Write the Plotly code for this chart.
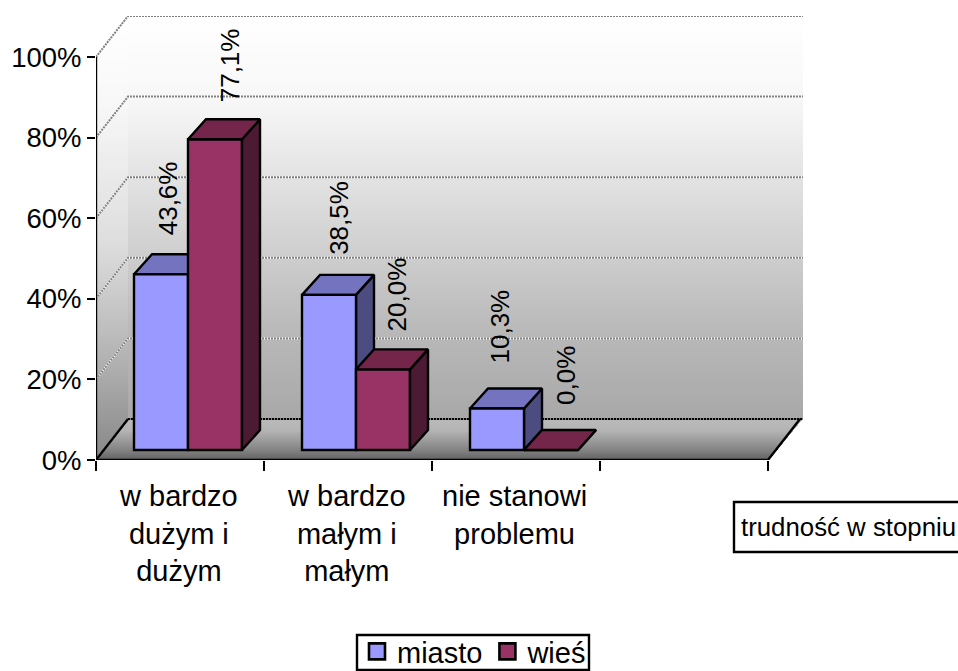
import numpy as np
import plotly.graph_objects as go

# ---- data
categories = ["w bardzo<br>dużym i<br>dużym", "w bardzo<br>małym i<br>małym", "nie stanowi<br>problemu"]
miasto = [43.6, 38.5, 10.3]
wies = [77.1, 20.0, 0.0]
miasto_labels = ["43,6%", "38,5%", "10,3%"]
wies_labels = ["77,1%", "20,0%", "0,0%"]
y_ticks = [0, 20, 40, 60, 80, 100]
y_tick_text = ["0%", "20%", "40%", "60%", "80%", "100%"]
x_ticks = [0, 1, 2, 3, 4]
axis_title = "trudność w stopniu"

# ---- layout geometry
W, H = 958, 671
L, R_PX, T, B_PX = 96, 803, 16, 460
PX_X = 168.0           # pixels per category
PX_Y = 4.03            # pixels per percent
x_max = (R_PX - L) / PX_X
y_max = (B_PX - T) / PX_Y
wall_dx = 32 / PX_X    # depth of the floor
wall_dy = 41 / PX_Y
bar_w = 54 / PX_X
bar_dx = 18 / PX_X
bar_dy = 20 / PX_Y
bar_base = 10 / PX_Y
m_left = 38 / PX_X     # miasto left edge within a category
w_left = m_left + bar_w
LW = 2.4
FONT = "Liberation Sans"
# label nudges in pixels (right of the bar centre, above the back of the top face)
m_nudge = [(7, 56), (10, 57), (3, 62)]
w_nudge = [(15, 54), (14, 55), (15, 54)]


def paper_x(px):
    return (px - L) / (R_PX - L)


def paper_y(py):
    return (B_PX - py) / (B_PX - T)


def gradient():
    px = np.arange(L, R_PX)
    py = np.arange(T, B_PX)
    back = np.interp(py, [16, 100, 240, 330, 419], [255, 247, 210, 185, 168])
    side = np.interp(py, [16, 100, 240, 330, 460], [255, 248, 222, 190, 135])
    floor = np.interp(py, [419, 430, 450, 460], [186, 180, 130, 96])
    z = np.full((len(py), len(px)), np.nan, dtype="float32")
    for j, yy in enumerate(py):
        z[j, :] = back[j] if yy < 419 else floor[j]
        edge = L + (B_PX - yy) * 32 / 41 if yy >= 419 else 128
        z[j, px < edge] = side[j]
        z[j, px < L + (58 - yy) * 32 / 42] = np.nan
        if yy >= 419:
            z[j, px > 768 + (B_PX - yy) * 34 / 41] = np.nan
    return (px + 0.5 - L) / PX_X, (B_PX - py - 0.5) / PX_Y, z


def polys(lefts, values, width, kind):
    xs, ys = [], []
    for x0, v in zip(lefts, values):
        top = bar_base + v
        if kind == "top":
            xs += [x0, x0 + width, x0 + width + bar_dx, x0 + bar_dx, x0, None]
            ys += [top, top, top + bar_dy, top + bar_dy, top, None]
        else:
            xr = x0 + width
            xs += [xr, xr + bar_dx, xr + bar_dx, xr, xr, None]
            ys += [bar_base, bar_base + bar_dy, top + bar_dy, top, bar_base, None]
    return xs, ys


fig = go.Figure()
gx, gy, gz = gradient()
fig.add_trace(go.Heatmap(x=gx, y=gy, z=gz, zmin=0, zmax=255, showscale=False, hoverinfo="skip",
                         colorscale=[[0, "#000000"], [1, "#ffffff"]]))

# gridlines on the walls
gxs, gys = [], []
for v in y_ticks:
    gxs += [0, wall_dx, x_max, None]
    gys += [v, v + wall_dy, v + wall_dy, None]
fig.add_trace(go.Scatter(x=gxs, y=gys, mode="lines", line=dict(color="#ffffff", width=2), hoverinfo="skip",
                         showlegend=False, cliponaxis=False))
fig.add_trace(go.Scatter(x=gxs, y=gys, mode="lines", line=dict(color="#808080", width=2, dash="2px,1px"),
                         hoverinfo="skip", showlegend=False, cliponaxis=False))
# back edge of the floor
fig.add_trace(go.Scatter(x=[wall_dx, x_max], y=[wall_dy, wall_dy], mode="lines",
                         line=dict(color="#000000", width=2, dash="2px,1px"), hoverinfo="skip",
                         showlegend=False, cliponaxis=False))

# axis lines and floor edges
fig.add_trace(go.Scatter(x=[0, 0, None, 0, x_ticks[-1], x_ticks[-1] + wall_dx, None, 0, wall_dx],
                         y=[y_ticks[-1], 0, None, 0, 0, wall_dy, None, 0, wall_dy],
                         mode="lines", line=dict(color="#000000", width=LW), hoverinfo="skip",
                         showlegend=False, cliponaxis=False))

lefts_m = [i + m_left for i in range(len(miasto))]
lefts_w = [i + w_left for i in range(len(wies))]


def face(lefts, values, kind, color, xa, ya):
    xs, ys = polys(lefts, values, bar_w, kind)
    fig.add_trace(go.Scatter(x=xs, y=ys, mode="lines", fill="toself", fillcolor=color,
                             line=dict(color="#000000", width=LW), hoverinfo="skip", showlegend=False,
                             xaxis=xa, yaxis=ya, cliponaxis=False))


face(lefts_m, miasto, "side", "#4C4C80", "x", "y")
face(lefts_m, miasto, "top", "#7373BF", "x", "y")

# front faces, above the miasto sides
fig.add_trace(go.Bar(x=[v + bar_w / 2 for v in lefts_m], y=miasto, base=bar_base, width=bar_w, name="miasto",
                     marker=dict(color="#9999FF", line=dict(color="#000000", width=LW)),
                     showlegend=False, xaxis="x2", yaxis="y2"))
fig.add_trace(go.Bar(x=[v + bar_w / 2 for v in lefts_w], y=wies, base=bar_base, width=bar_w, name="wieś",
                     marker=dict(color="#993366", line=dict(color="#000000", width=LW)),
                     showlegend=False, xaxis="x2", yaxis="y2"))
face(lefts_w, wies, "side", "#4C1A33", "x2", "y2")
face(lefts_w, wies, "top", "#732649", "x2", "y2")

# legend entries
for name, col in [("miasto", "#9999FF"), ("wieś", "#993366")]:
    fig.add_trace(go.Scatter(x=[None], y=[None], mode="markers", name=name, xaxis="x2", yaxis="y2",
                             marker=dict(symbol="square", size=16, color=col, line=dict(color="#000000", width=2.6))))

annotations = []
LABEL_FONT = dict(family=FONT, size=26, color="#000000")
for lefts, vals, texts, nudges in [(lefts_m, miasto, miasto_labels, m_nudge), (lefts_w, wies, wies_labels, w_nudge)]:
    for x0, v, t, (ndx, ndy) in zip(lefts, vals, texts, nudges):
        annotations.append(dict(x=x0 + bar_w / 2 + ndx / PX_X, y=bar_base + v + bar_dy + ndy / PX_Y, text=t,
                                textangle=-90, showarrow=False, xanchor="center", yanchor="middle",
                                xref="x", yref="y", font=LABEL_FONT, borderpad=0))
for i, c in enumerate(categories):
    annotations.append(dict(x=(i + 0.5) / x_max - 1.5 / (R_PX - L), y=paper_y(478), text=c, showarrow=False,
                            xanchor="center", yanchor="top", xref="paper", yref="paper", align="center",
                            font=dict(family=FONT, size=29, color="#000000")))
annotations.append(dict(x=paper_x(739), y=paper_y(527), xref="paper", yref="paper", xanchor="left",
                        yanchor="middle", text=axis_title, showarrow=False, align="left",
                        font=dict(family=FONT, size=25.8, color="#000000")))

shapes = [
    dict(type="rect", xref="paper", yref="paper", x0=paper_x(734), x1=paper_x(962), y0=paper_y(502), y1=paper_y(552),
         line=dict(color="#000000", width=LW), fillcolor="#ffffff", layer="below"),
    dict(type="rect", xref="paper", yref="paper", x0=paper_x(357), x1=paper_x(589), y0=paper_y(635), y1=paper_y(670),
         line=dict(color="#000000", width=LW), fillcolor="#ffffff", layer="below"),
]

fig.update_layout(
    width=W, height=H, margin=dict(l=L, r=W - R_PX, t=T, b=H - B_PX, pad=0, autoexpand=False),
    paper_bgcolor="#ffffff", plot_bgcolor="rgba(0,0,0,0)", barmode="overlay",
    font=dict(family=FONT, color="#000000"),
    xaxis=dict(range=[0, x_max], tickmode="array", tickvals=x_ticks, ticktext=["" for _ in x_ticks], ticks="outside",
               ticklen=10, tickwidth=LW, tickcolor="#000000", showgrid=False, zeroline=False, showline=False),
    yaxis=dict(range=[0, y_max], tickmode="array", tickvals=y_ticks, ticktext=y_tick_text, ticks="outside",
               ticklen=8, tickwidth=LW, tickcolor="#000000", showgrid=False, zeroline=False, showline=False,
               tickfont=dict(family=FONT, size=27.5, color="#000000")),
    xaxis2=dict(range=[0, x_max], overlaying="x", visible=False),
    yaxis2=dict(range=[0, y_max], overlaying="y", visible=False),
    legend=dict(orientation="h", x=paper_x(357), y=paper_y(626), xanchor="left", yanchor="top",
                borderwidth=0, bgcolor="rgba(0,0,0,0)",
                font=dict(family=FONT, size=29, color="#000000"), itemwidth=30),
    annotations=annotations, shapes=shapes,
)
fig.write_html("out.html", config=dict(displayModeBar=False), post_script="document.body.style.margin='0';")
